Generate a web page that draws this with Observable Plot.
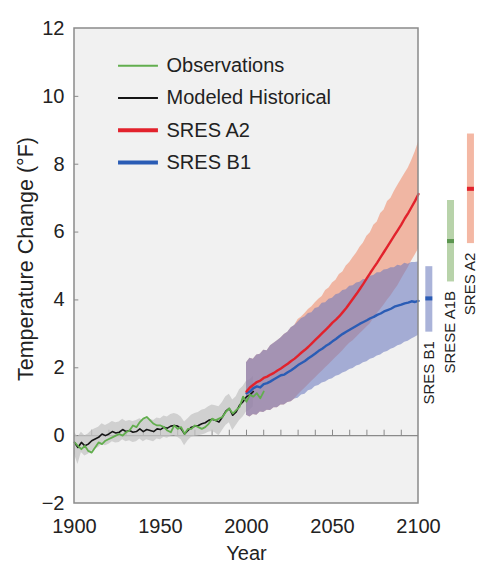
<!DOCTYPE html>
<html><head><meta charset="utf-8">
<script src="https://cdn.jsdelivr.net/npm/d3@7"></script>
<script src="https://cdn.jsdelivr.net/npm/@observablehq/plot@0.6"></script>
<style>
html,body{margin:0;padding:0;background:#fff;}
#chart svg{display:block;}
</style></head><body><div id="chart"></div>
<script>
// ---------- data ----------
const xTicks = [1900, 1950, 2000, 2050, 2100];
const yTicks = [-2, 0, 2, 4, 6, 8, 10, 12];

const modelYears = d3.range(1900, 2005, 2);
const modeled = [-0.2,-0.35,-0.2,-0.3,-0.25,-0.15,-0.1,-0.05,0.05,0.0,0.05,0.12,0.08,0.1,0.18,0.12,0.15,0.1,0.12,0.2,0.12,0.18,0.15,0.12,0.2,0.18,0.25,0.22,0.28,0.3,0.28,0.2,0.05,0.15,0.25,0.28,0.3,0.35,0.38,0.45,0.48,0.45,0.4,0.55,0.72,0.8,0.6,0.7,0.9,1.0,1.15,1.2,1.3];
const modeledHi = [0.1,-0.05,0.1,0.0,0.05,0.15,0.2,0.25,0.35,0.3,0.35,0.42,0.38,0.4,0.48,0.42,0.45,0.42,0.45,0.5,0.45,0.5,0.48,0.45,0.52,0.5,0.58,0.55,0.62,0.65,0.62,0.55,0.4,0.5,0.6,0.65,0.68,0.75,0.78,0.85,0.9,0.88,0.85,0.98,1.15,1.22,1.05,1.15,1.35,1.45,1.6,1.65,1.75];
const modeledLo = [-0.55,-0.85,-0.5,-0.6,-0.55,-0.45,-0.4,-0.35,-0.25,-0.3,-0.25,-0.18,-0.22,-0.2,-0.12,-0.18,-0.15,-0.2,-0.18,-0.1,-0.18,-0.12,-0.15,-0.18,-0.1,-0.12,-0.05,-0.08,-0.02,0.0,-0.05,-0.12,-0.3,-0.15,-0.05,-0.02,0.0,0.02,0.05,0.1,0.12,0.08,0.0,0.15,0.3,0.38,0.15,0.3,0.45,0.55,0.7,0.75,0.85];

const obsYears = d3.range(1900, 2011, 2);
const observations = [-0.2,-0.3,-0.4,-0.3,-0.45,-0.5,-0.35,-0.2,-0.25,-0.15,-0.1,-0.05,0.0,0.05,0.0,0.1,0.15,0.3,0.25,0.4,0.5,0.55,0.45,0.35,0.3,0.3,0.25,0.15,0.1,0.3,0.2,0.25,0.05,0.2,0.2,0.3,0.25,0.2,0.25,0.35,0.5,0.45,0.5,0.55,0.7,0.8,0.65,0.75,0.85,1.15,1.0,1.2,1.15,1.25,1.1,1.3];

const projYears = d3.range(2000, 2101, 2);
const a2Mean = [1.30,1.42,1.5,1.58,1.62,1.7,1.74,1.8,1.85,1.92,1.98,2.05,2.12,2.2,2.27,2.36,2.45,2.53,2.62,2.72,2.82,2.92,3.02,3.12,3.22,3.33,3.42,3.52,3.64,3.76,3.9,4.04,4.18,4.33,4.48,4.64,4.8,4.95,5.1,5.26,5.42,5.58,5.74,5.9,6.06,6.22,6.4,6.56,6.74,6.92,7.12];
const a2Hi = [2.15,2.28,2.25,2.38,2.4,2.52,2.5,2.65,2.72,2.8,2.88,2.98,3.05,3.18,3.25,3.42,3.5,3.6,3.72,3.8,3.92,4.02,4.1,4.28,4.35,4.5,4.58,4.75,4.82,5.0,5.1,5.25,5.38,5.55,5.68,5.88,5.98,6.2,6.3,6.55,6.65,6.9,7.0,7.2,7.38,7.55,7.72,7.88,8.1,8.35,8.65];
const a2Lo = [0.6,0.55,0.62,0.6,0.7,0.68,0.75,0.74,0.82,0.82,0.9,0.9,0.98,1.0,1.08,1.2,1.3,1.4,1.5,1.6,1.7,1.8,1.9,2.0,2.1,2.2,2.3,2.4,2.5,2.62,2.72,2.8,2.9,3.0,3.1,3.2,3.3,3.45,3.6,3.72,3.85,4.0,4.12,4.28,4.42,4.6,4.78,4.95,5.15,5.32,5.5];
const b1Mean = [1.25,1.3,1.4,1.45,1.42,1.52,1.55,1.6,1.66,1.72,1.78,1.8,1.87,1.93,2.0,2.08,2.14,2.2,2.28,2.35,2.42,2.5,2.56,2.64,2.7,2.78,2.85,2.93,3.0,3.06,3.12,3.18,3.24,3.3,3.35,3.4,3.46,3.5,3.56,3.6,3.66,3.7,3.74,3.8,3.83,3.86,3.9,3.92,3.96,3.94,3.97];
const b1Hi = [2.15,2.28,2.25,2.38,2.4,2.52,2.5,2.65,2.72,2.8,2.88,2.98,3.05,3.18,3.25,3.35,3.45,3.5,3.6,3.62,3.75,3.78,3.9,3.92,4.02,4.05,4.15,4.18,4.28,4.3,4.4,4.42,4.5,4.52,4.6,4.6,4.7,4.72,4.8,4.8,4.88,4.9,4.95,4.95,5.02,5.0,5.08,5.05,5.1,5.1,5.12];
const b1Lo = [0.6,0.55,0.62,0.6,0.7,0.68,0.75,0.74,0.82,0.82,0.9,0.9,0.98,1.0,1.08,1.1,1.2,1.22,1.32,1.35,1.45,1.48,1.55,1.58,1.65,1.68,1.75,1.78,1.85,1.88,1.95,1.98,2.05,2.08,2.15,2.18,2.25,2.28,2.35,2.38,2.45,2.48,2.55,2.58,2.65,2.68,2.75,2.78,2.85,2.9,2.96];

const rangeNames = ["SRES B1", "SRESE A1B", "SRES A2"];
const rangeMean = [4.03, 5.72, 7.26];
const rangeLo = [3.05, 4.53, 5.66];
const rangeHi = [4.98, 6.93, 8.89];

const legendLabels = ["Observations", "Modeled Historical", "SRES A2", "SRES B1"];

// ---------- styling / layout ----------
const colObs = "#62ae4e", colModel = "#151515", colA2 = "#e2222c", colB1 = "#2a5cb5";
const rangeBarColors = ["#aab3d9", "#b8d3aa", "#f4b8a4"];
const rangeDotColors = ["#2a5cb5", "#5c9650", "#e2222c"];
const rangeSlots = [2106, 2118.6, 2130.2];
const legendColors = [colObs, colModel, colA2, colB1];
const legendWidths = [2, 2, 4, 4];

const hist = modelYears.map((year, i) => ({year, v: modeled[i], lo: modeledLo[i], hi: modeledHi[i]}));
const obs = obsYears.map((year, i) => ({year, v: observations[i]}));
const proj = projYears.map((year, i) => ({year, a2: a2Mean[i], a2Lo: a2Lo[i], a2Hi: a2Hi[i], b1: b1Mean[i], b1Lo: b1Lo[i], b1Hi: b1Hi[i]}));
const ranges = rangeNames.map((name, i) => ({name, x: rangeSlots[i], mean: rangeMean[i], lo: rangeLo[i], hi: rangeHi[i], bar: rangeBarColors[i], dot: rangeDotColors[i]}));
const legend = legendLabels.map((label, i) => ({label, y: 10.9 - i * 0.95, color: legendColors[i], w: legendWidths[i]}));

const x0 = xTicks[0], x1 = xTicks[xTicks.length - 1];
const y0 = yTicks[0], y1 = yTicks[yTicks.length - 1];
const decades = d3.range(x0 + 10, x1, 10);

const chart = Plot.plot({
  width: 477, height: 566,
  marginLeft: 74, marginRight: 0, marginTop: 28, marginBottom: 63,
  style: {fontFamily: "'Liberation Sans', Arial, sans-serif", fontSize: "20px", color: "#222", background: "#fff", overflow: "visible"},
  x: {domain: [1900, 2134.3]},
  y: {domain: [y0, y1]},
  marks: [
    Plot.rect([0], {x1: x0, x2: x1, y1: y0, y2: y1, fill: "#f1f1f1"}),
    Plot.ruleY([0], {x1: x0, x2: x1, stroke: "#8a8a8a", strokeWidth: 1.3}),
    Plot.ruleX(decades, {y1: 0, y2: 0.16, stroke: "#8a8a8a", strokeWidth: 1}),
    Plot.ruleY(yTicks.slice(1, -1), {x1: x0, x2: x0 + 2.5, stroke: "#8a8a8a"}),
    Plot.areaY(hist, {x: "year", y1: "lo", y2: "hi", fill: "#c4c4c4", fillOpacity: 0.75}),
    Plot.areaY(proj, {x: "year", y1: "a2Lo", y2: "a2Hi", fill: "#f0906f", fillOpacity: 0.6}),
    Plot.areaY(proj, {x: "year", y1: "b1Lo", y2: "b1Hi", fill: "#6c7bbf", fillOpacity: 0.58}),
    Plot.lineY(hist, {x: "year", y: "v", stroke: colModel, strokeWidth: 1.6}),
    Plot.lineY(obs, {x: "year", y: "v", stroke: colObs, strokeWidth: 1.8}),
    Plot.lineY(proj, {x: "year", y: "b1", stroke: colB1, strokeWidth: 2.4}),
    Plot.lineY(proj, {x: "year", y: "a2", stroke: colA2, strokeWidth: 2.4}),
    Plot.rect([0], {x1: x0, x2: x1, y1: y0, y2: y1, fill: "none", stroke: "#8a8a8a", strokeWidth: 1.5}),
    // range bars at right
    Plot.ruleX(ranges, {x: "x", y1: "lo", y2: "hi", stroke: "bar", strokeWidth: 7}),
    Plot.ruleX(ranges, {x: "x", y1: d => d.mean - 0.06, y2: d => d.mean + 0.06, stroke: "dot", strokeWidth: 7}),
    Plot.text(ranges, {x: "x", y: "lo", text: "name", rotate: -90, textAnchor: "end", dy: 9, fontSize: 15, fill: "#222"}),
    // legend
    Plot.ruleY(legend, {y: "y", x1: 1925.6, x2: 1948.8, stroke: "color", strokeWidth: "w"}),
    Plot.text(legend, {y: "y", x: 1953.5, text: "label", textAnchor: "start", fontSize: 20, fill: "#222"}),
    // axes
    Plot.axisY({ticks: yTicks, tickSize: 0, tickPadding: 10, fontSize: 20, label: null}),
    Plot.axisX({ticks: xTicks, tickSize: 0, tickPadding: 15, fontSize: 20, label: null, tickFormat: d => String(d)}),
    Plot.text(["Year"], {x: (x0 + x1) / 2, frameAnchor: "bottom", lineAnchor: "middle", dy: 50, fontSize: 20, fill: "#222"}),
    Plot.text(["Temperature Change (°F)"], {y: (y0 + y1) / 2, frameAnchor: "left", textAnchor: "middle", dx: -48, dy: -7, rotate: -90, fontSize: 21.5, fill: "#222"})
  ]
});
document.getElementById("chart").append(chart);
</script></body></html>
